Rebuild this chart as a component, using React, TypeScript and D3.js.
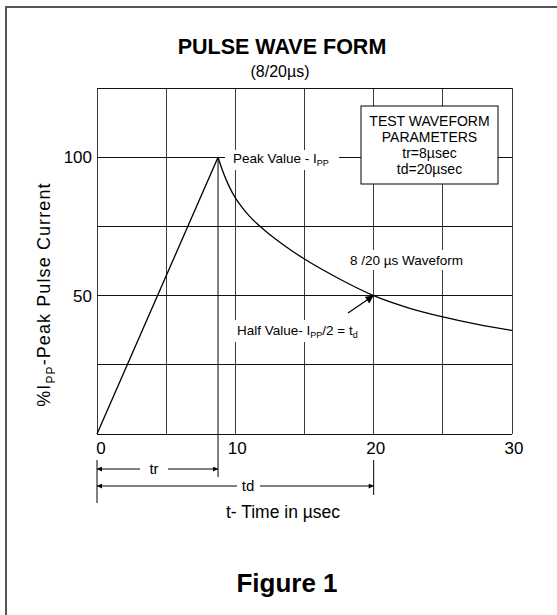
import React from 'react';
import * as d3 from 'd3';

// ---- data ----
const riseTime = [0, 8.75];
const riseCurrent = [0, 100];
const decayTime = [8.75, 9, 9.5, 10, 10.5, 11, 11.5, 12, 13, 14, 15, 17.5, 20, 22.5, 25, 27.5, 30];
const decayCurrent = [100, 96.2, 90, 85.3, 81.8, 78.8, 76.3, 74.1, 70.1, 66.5, 63.2, 56.1, 50, 45.6, 42.3, 39.6, 37.4];
const xGrid = [0, 5, 10, 15, 20, 25, 30];
const yGrid = [0, 25, 50, 75, 100, 125];
const xTickLabels = [0, 10, 20, 30];
const yTickLabels = [50, 100];
const paramLines = ['TEST WAVEFORM', 'PARAMETERS', 'tr=8µsec', 'td=20µsec'];
const peakTime = 8.75;
const halfTime = 20;
const halfValue = 50;

const FONT = "'Liberation Sans', Arial, Helvetica, sans-serif";

export default function App() {
  const x = d3.scaleLinear().domain([0, 30]).range([97, 512]);
  const y = d3.scaleLinear().domain([0, 125]).range([434, 88]);

  const lin = d3.line<[number, number]>().x(d => x(d[0])).y(d => y(d[1]));
  const smooth = d3
    .line<[number, number]>()
    .x(d => x(d[0]))
    .y(d => y(d[1]))
    .curve(d3.curveMonotoneX);

  const risePath = lin(riseTime.map((t, i) => [t, riseCurrent[i]] as [number, number]));
  const decayPath = smooth(decayTime.map((t, i) => [t, decayCurrent[i]] as [number, number]));

  const gridColor = '#3a3a3a';
  const x0 = x(0);
  const xP = x(peakTime);
  const x20 = x(halfTime);
  const trY = 469;
  const tdY = 486;

  return (
    <svg
      width={557}
      height={615}
      style={{ position: 'absolute', left: 0, top: 0, background: '#fff' }}
      fontFamily={FONT}
    >
      <defs>
        <marker id="ah" viewBox="0 0 10 10" refX="10" refY="5" markerWidth="6" markerHeight="5" orient="auto-start-reverse" markerUnits="userSpaceOnUse">
          <path d="M0,0 L10,5 L0,10 z" fill="#000" />
        </marker>
        <marker id="ahBig" viewBox="0 0 10 10" refX="10" refY="5" markerWidth="10" markerHeight="8" orient="auto" markerUnits="userSpaceOnUse">
          <path d="M0,0 L10,5 L0,10 z" fill="#000" />
        </marker>
      </defs>

      {/* outer frame */}
      <rect x={6} y={7} width={600} height={700} fill="none" stroke="#555" strokeWidth={2} />

      {/* title */}
      <text x={282} y={54} textAnchor="middle" fontSize={21.5} fontWeight="bold">PULSE WAVE FORM</text>
      <text x={280} y={77} textAnchor="middle" fontSize={16}>(8/20µs)</text>

      {/* grid */}
      {xGrid.map(v => (
        <line key={'vx' + v} x1={x(v)} x2={x(v)} y1={y(0)} y2={y(125)} stroke={gridColor} strokeWidth={1} shapeRendering="crispEdges" />
      ))}
      {yGrid.map(v => (
        <line key={'hy' + v} x1={x(0)} x2={x(30)} y1={y(v)} y2={y(v)} stroke="#111" strokeWidth={1} shapeRendering="crispEdges" />
      ))}

      {/* peak vertical line */}
      <line x1={xP} x2={xP} y1={y(100)} y2={477} stroke="#000" strokeWidth={1} />

      {/* waveform */}
      <path d={risePath || ''} fill="none" stroke="#000" strokeWidth={1.3} />
      <path d={decayPath || ''} fill="none" stroke="#000" strokeWidth={1.3} />

      {/* peak label */}
      <rect x={225} y={150} width={114} height={20} fill="#fff" />
      <text x={233} y={163} fontSize={13.5}>
        Peak Value - I<tspan fontSize={9} dy={3}>PP</tspan>
      </text>

      {/* test waveform box */}
      <rect x={361} y={106} width={137} height={78} fill="#fff" stroke="#000" strokeWidth={1} />
      {paramLines.map((s, i) => (
        <text key={s} x={429.5} y={126 + i * 16} textAnchor="middle" fontSize={14}>{s}</text>
      ))}

      {/* waveform label */}
      <rect x={346} y={250} width={121} height={20} fill="#fff" />
      <text x={350} y={265} fontSize={13.5}>8 /20 µs Waveform</text>

      {/* half value label */}
      <rect x={232} y={320} width={131} height={22} fill="#fff" />
      <text x={237} y={335} fontSize={13.5}>
        Half Value- I<tspan fontSize={9} dy={3}>PP</tspan>
        <tspan dy={-3}>/2 = t</tspan>
        <tspan fontSize={9} dy={3}>d</tspan>
      </text>
      <line x1={348} y1={313} x2={x(halfTime)} y2={y(halfValue)} stroke="#000" strokeWidth={1.2} markerEnd="url(#ahBig)" />

      {/* y axis labels */}
      {yTickLabels.map(v => (
        <text key={'yl' + v} x={92} y={y(v) + 6} textAnchor="end" fontSize={17}>{v}</text>
      ))}
      <text transform={`translate(50,${y(50) - 1}) rotate(-90)`} textAnchor="middle" fontSize={18} letterSpacing={1.1}>
        %I<tspan fontSize={12} dy={5}>PP</tspan><tspan dy={-5}>-Peak Pulse Current</tspan>
      </text>

      {/* x axis labels */}
      {xTickLabels.map(v => (
        <text key={'xl' + v} x={v === 0 ? x(v) + 4 : x(v) + 2} y={454} textAnchor="middle" fontSize={17}>{v}</text>
      ))}

      {/* dimension lines */}
      <line x1={x0} x2={x0} y1={460} y2={503} stroke="#000" strokeWidth={1} />
      <line x1={x20} x2={x20} y1={460} y2={495} stroke="#000" strokeWidth={1} />

      <line x1={x0} x2={140} y1={trY} y2={trY} stroke="#000" strokeWidth={1} markerStart="url(#ah)" />
      <line x1={168} x2={xP} y1={trY} y2={trY} stroke="#000" strokeWidth={1} markerEnd="url(#ah)" />
      <text x={154} y={trY + 5} textAnchor="middle" fontSize={15}>tr</text>

      <line x1={x0} x2={237} y1={tdY} y2={tdY} stroke="#000" strokeWidth={1} markerStart="url(#ah)" />
      <line x1={260} x2={x20} y1={tdY} y2={tdY} stroke="#000" strokeWidth={1} markerEnd="url(#ah)" />
      <text x={248} y={tdY + 5} textAnchor="middle" fontSize={15}>td</text>

      <text x={283} y={518} textAnchor="middle" fontSize={17.5}>t- Time in µsec</text>

      <text x={287} y={592} textAnchor="middle" fontSize={26} fontWeight="bold">Figure 1</text>
    </svg>
  );
}
